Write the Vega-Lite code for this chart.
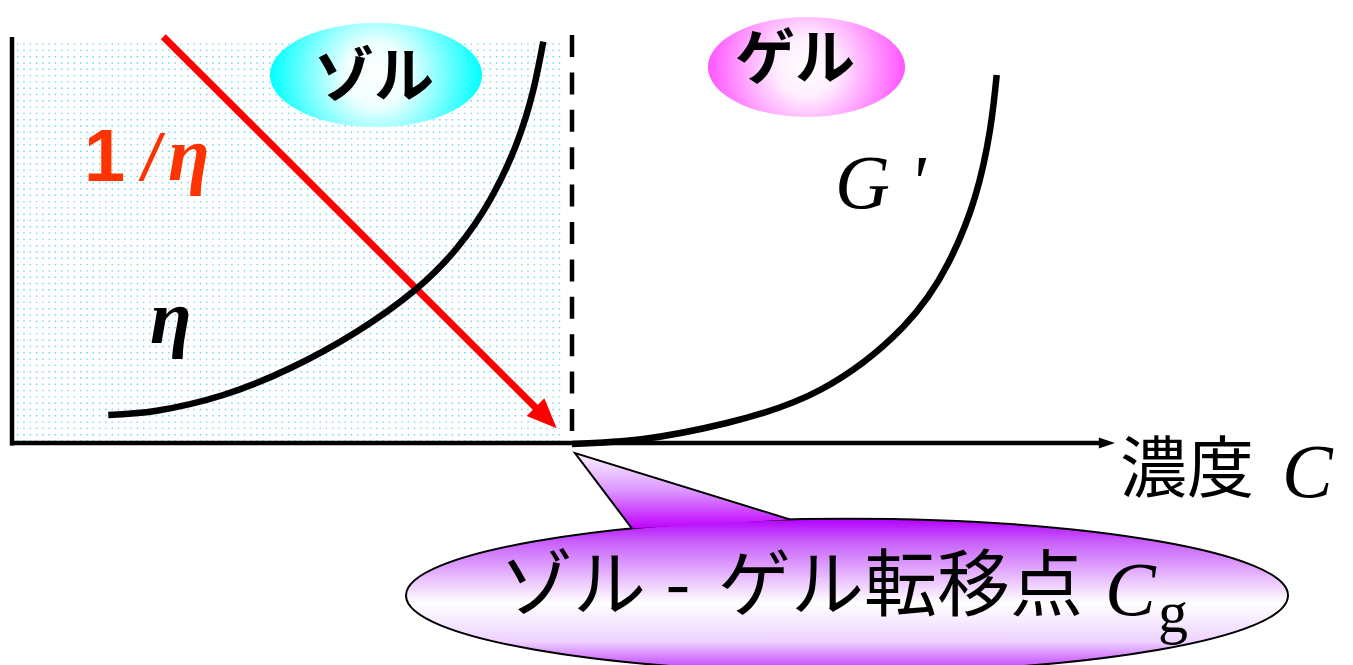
{
  "$schema": "https://vega.github.io/schema/vega-lite/v6.json",
  "width": 1353,
  "height": 665,
  "autosize": "none",
  "padding": 0,
  "background": "white",
  "config": {"view": {"stroke": null}},
  "encoding": {
    "x": {"field": "x", "type": "quantitative", "scale": {"domain": [-1.2, 134.1], "nice": false, "zero": false}, "axis": null},
    "y": {"field": "y", "type": "quantitative", "scale": {"domain": [-22.2, 44.3], "nice": false, "zero": false}, "axis": null}
  },
  "layer": [
    {
      "data": {"values": [
        {"y": 0.2, "x": 0.5, "x2": 55.0}, {"y": 0.83, "x": 0.5, "x2": 55.0}, {"y": 1.46, "x": 0.5, "x2": 55.0}, {"y": 2.09, "x": 0.5, "x2": 55.0},
        {"y": 2.72, "x": 0.5, "x2": 55.0}, {"y": 3.35, "x": 0.5, "x2": 55.0}, {"y": 3.98, "x": 0.5, "x2": 55.0}, {"y": 4.61, "x": 0.5, "x2": 55.0},
        {"y": 5.24, "x": 0.5, "x2": 55.0}, {"y": 5.87, "x": 0.5, "x2": 55.0}, {"y": 6.5, "x": 0.5, "x2": 55.0}, {"y": 7.13, "x": 0.5, "x2": 55.0},
        {"y": 7.76, "x": 0.5, "x2": 55.0}, {"y": 8.39, "x": 0.5, "x2": 55.0}, {"y": 9.02, "x": 0.5, "x2": 55.0}, {"y": 9.65, "x": 0.5, "x2": 55.0},
        {"y": 10.28, "x": 0.5, "x2": 55.0}, {"y": 10.91, "x": 0.5, "x2": 55.0}, {"y": 11.54, "x": 0.5, "x2": 55.0}, {"y": 12.17, "x": 0.5, "x2": 55.0},
        {"y": 12.8, "x": 0.5, "x2": 55.0}, {"y": 13.43, "x": 0.5, "x2": 55.0}, {"y": 14.06, "x": 0.5, "x2": 55.0}, {"y": 14.69, "x": 0.5, "x2": 55.0},
        {"y": 15.32, "x": 0.5, "x2": 55.0}, {"y": 15.95, "x": 0.5, "x2": 55.0}, {"y": 16.58, "x": 0.5, "x2": 55.0}, {"y": 17.21, "x": 0.5, "x2": 55.0},
        {"y": 17.84, "x": 0.5, "x2": 55.0}, {"y": 18.47, "x": 0.5, "x2": 55.0}, {"y": 19.1, "x": 0.5, "x2": 55.0}, {"y": 19.73, "x": 0.5, "x2": 55.0},
        {"y": 20.36, "x": 0.5, "x2": 55.0}, {"y": 20.99, "x": 0.5, "x2": 55.0}, {"y": 21.62, "x": 0.5, "x2": 55.0}, {"y": 22.25, "x": 0.5, "x2": 55.0},
        {"y": 22.88, "x": 0.5, "x2": 55.0}, {"y": 23.51, "x": 0.5, "x2": 55.0}, {"y": 24.14, "x": 0.5, "x2": 55.0}, {"y": 24.77, "x": 0.5, "x2": 55.0},
        {"y": 25.4, "x": 0.5, "x2": 55.0}, {"y": 26.03, "x": 0.5, "x2": 55.0}, {"y": 26.66, "x": 0.5, "x2": 55.0}, {"y": 27.29, "x": 0.5, "x2": 55.0},
        {"y": 27.92, "x": 0.5, "x2": 55.0}, {"y": 28.55, "x": 0.5, "x2": 55.0}, {"y": 29.18, "x": 0.5, "x2": 55.0}, {"y": 29.81, "x": 0.5, "x2": 55.0},
        {"y": 30.44, "x": 0.5, "x2": 55.0}, {"y": 31.07, "x": 0.5, "x2": 55.0}, {"y": 31.7, "x": 0.5, "x2": 55.0}, {"y": 32.33, "x": 0.5, "x2": 55.0},
        {"y": 32.96, "x": 0.5, "x2": 55.0}, {"y": 33.59, "x": 0.5, "x2": 55.0}, {"y": 34.22, "x": 0.5, "x2": 55.0}, {"y": 34.85, "x": 0.5, "x2": 55.0},
        {"y": 35.48, "x": 0.5, "x2": 55.0}, {"y": 36.11, "x": 0.5, "x2": 55.0}, {"y": 36.74, "x": 0.5, "x2": 55.0}, {"y": 37.37, "x": 0.5, "x2": 55.0},
        {"y": 38.0, "x": 0.5, "x2": 55.0}, {"y": 38.63, "x": 0.5, "x2": 55.0}, {"y": 39.26, "x": 0.5, "x2": 55.0}, {"y": 39.89, "x": 0.5, "x2": 55.0}
      ]},
      "mark": {"type": "rule", "color": "#55d0f2", "strokeWidth": 1.4, "strokeDash": [1.4, 4.9], "opacity": 0.9},
      "encoding": {
        "x2": {"field": "x2"}
      }
    },
    {
      "data": {"values": [
        {"x": 0, "y": 40.6, "x2": 0, "y2": -0.25},
        {"x": -0.2, "y": 0, "x2": 108.8, "y2": 0}
      ]},
      "mark": {"type": "rule", "color": "black", "strokeWidth": 4.5},
      "encoding": {"x2": {"field": "x2"}, "y2": {"field": "y2"}}
    },
    {
      "data": {"values": [{"x": 56, "y": 40.8, "x2": 56, "y2": 1.2}]},
      "mark": {"type": "rule", "color": "black", "strokeWidth": 4.5, "strokeDash": [22, 15.4]},
      "encoding": {"x2": {"field": "x2"}, "y2": {"field": "y2"}}
    },
    {
      "data": {"values": [{"x": 36.4, "y": 36.8}]},
      "mark": {"type": "point", "filled": true, "size": 44944, "strokeWidth": 0,
        "shape": "M-1,0C-1,-0.2712,-0.5523,-0.491,0,-0.491C0.5523,-0.491,1,-0.2712,1,0C1,0.2712,0.5523,0.491,0,0.491C-0.5523,0.491,-1,0.2712,-1,0Z",
        "fill": {"gradient": "radial", "stops": [{"offset": 0, "color": "#ffffff"}, {"offset": 0.3, "color": "#eeffff"}, {"offset": 1, "color": "#00ffff"}]},
        "opacity": 1}
    },
    {
      "data": {"values": [{"x": 79.45, "y": 37.6}]},
      "mark": {"type": "point", "filled": true, "size": 38809, "strokeWidth": 0,
        "shape": "M-1,0C-1,-0.2804,-0.5523,-0.5076,0,-0.5076C0.5523,-0.5076,1,-0.2804,1,0C1,0.2804,0.5523,0.5076,0,0.5076C-0.5523,0.5076,-1,0.2804,-1,0Z",
        "fill": {"gradient": "radial", "stops": [{"offset": 0, "color": "#ffffff"}, {"offset": 0.3, "color": "#ffeeff"}, {"offset": 1, "color": "#ff55ff"}]},
        "opacity": 1}
    },
    {
      "data": {"values": [{"x": 15.13, "y": 40.63}, {"x": 52.7, "y": 3.2}]},
      "mark": {"type": "line", "color": "#ff0000", "strokeWidth": 7, "strokeCap": "butt"}
    },
    {
      "data": {"values": [{"x": 54.47, "y": 1.47}]},
      "mark": {"type": "point", "filled": true, "size": 2500, "angle": 135, "strokeWidth": 0, "color": "#ff0000", "opacity": 1,
        "shape": "M0,0L-0.5,1.2L0.5,1.2Z"}
    },
    {
      "data": {"values": [
        {"x": 9.63, "y": 2.8}, {"x": 14.47, "y": 3.23}, {"x": 21.13, "y": 4.8}, {"x": 27.8, "y": 7.47},
        {"x": 34.47, "y": 11.13}, {"x": 40.3, "y": 15.3}, {"x": 44.47, "y": 19.47}, {"x": 47.8, "y": 24.3},
        {"x": 50.47, "y": 29.97}, {"x": 52.13, "y": 35.3}, {"x": 53.13, "y": 40.13}
      ]},
      "mark": {"type": "line", "color": "black", "strokeWidth": 6.5, "interpolate": "natural"}
    },
    {
      "data": {"values": [
        {"x": 56.0, "y": -0.1}, {"x": 63.13, "y": 0.4}, {"x": 71.47, "y": 2.0}, {"x": 80.8, "y": 5.3},
        {"x": 89.13, "y": 11.63}, {"x": 93.63, "y": 18.0}, {"x": 96.3, "y": 24.6}, {"x": 97.8, "y": 31.3},
        {"x": 98.47, "y": 36.8}
      ]},
      "mark": {"type": "line", "color": "black", "strokeWidth": 6.5, "interpolate": "natural"}
    },
    {
      "data": {"values": [{"x": 110.3, "y": 0}]},
      "mark": {"type": "point", "filled": true, "size": 324, "strokeWidth": 0, "color": "black", "opacity": 1,
        "shape": "M0,0L-1.8,-0.6L-1.8,0.6Z"}
    },
    {
      "data": {"values": [{"x": 36.2, "y": 36.4, "text": "ゾル"}, {"x": 78.3, "y": 38.2, "text": "ゲル"}]},
      "mark": {"type": "text", "font": "Noto Sans CJK JP", "fontWeight": "bold", "fontSize": 60, "align": "center", "baseline": "middle", "color": "black"},
      "encoding": {"text": {"field": "text"}}
    },
    {
      "data": {"values": [{"x": 7.2, "y": 26.2, "text": "1"}]},
      "mark": {"type": "text", "font": "Liberation Sans", "fontWeight": "bold", "fontSize": 74, "align": "left", "baseline": "alphabetic", "color": "#ff3300"},
      "encoding": {"text": {"field": "text"}}
    },
    {
      "data": {"values": [{"x": 13.0, "y": 26.3, "text": "/"}]},
      "mark": {"type": "text", "font": "Liberation Sans", "fontStyle": "italic", "fontSize": 64, "align": "left", "baseline": "alphabetic", "color": "#ff3300"},
      "encoding": {"text": {"field": "text"}}
    },
    {
      "data": {"values": [{"x": 15.6, "y": 26.3, "text": "η"}]},
      "mark": {"type": "text", "font": "Liberation Serif", "fontStyle": "italic", "fontWeight": "bold", "fontSize": 76, "align": "left", "baseline": "alphabetic", "color": "#ff3300"},
      "encoding": {"text": {"field": "text"}}
    },
    {
      "data": {"values": [{"x": 13.8, "y": 10.0, "text": "η"}]},
      "mark": {"type": "text", "font": "Liberation Serif", "fontStyle": "italic", "fontWeight": "bold", "fontSize": 76, "align": "left", "baseline": "alphabetic", "color": "black"},
      "encoding": {"text": {"field": "text"}}
    },
    {
      "data": {"values": [{"x": 82.3, "y": 23.5, "text": "G '"}]},
      "mark": {"type": "text", "font": "Liberation Serif", "fontStyle": "italic", "fontSize": 76, "align": "left", "baseline": "alphabetic", "color": "black"},
      "encoding": {"text": {"field": "text"}}
    },
    {
      "data": {"values": [{"x": 110.8, "y": -2.9, "text": "濃度"}]},
      "mark": {"type": "text", "font": "Noto Sans CJK JP", "fontSize": 67, "align": "left", "baseline": "middle", "color": "black"},
      "encoding": {"text": {"field": "text"}}
    },
    {
      "data": {"values": [{"x": 127.0, "y": -5.4, "text": "C"}]},
      "mark": {"type": "text", "font": "Liberation Serif", "fontStyle": "italic", "fontSize": 76, "align": "left", "baseline": "alphabetic", "color": "black"},
      "encoding": {"text": {"field": "text"}}
    },
    {
      "data": {"values": [{"x": 83.5, "y": -15.25}]},
      "mark": {"type": "point", "filled": true, "size": 777924, "stroke": "black", "strokeWidth": 2, "opacity": 1,
        "shape": "M-1,0C-1,-0.09604,-0.5523,-0.1739,0,-0.1739C0.5523,-0.1739,1,-0.09604,1,0C1,0.09604,0.5523,0.1739,0,0.1739C-0.5523,0.1739,-1,0.09604,-1,0Z",
        "fill": {"gradient": "linear", "x1": 0, "y1": 0, "x2": 0, "y2": 1, "stops": [{"offset": 0, "color": "#b400ff"}, {"offset": 0.15, "color": "#c860fa"}, {"offset": 0.55, "color": "#ffffff"}, {"offset": 0.8, "color": "#eed2ff"}, {"offset": 1, "color": "#bc30ff"}]}}
    },
    {
      "data": {"values": [{"x": 83.5, "y": -15.25}]},
      "mark": {"type": "point", "filled": true, "size": 777924, "stroke": "black", "strokeWidth": 2, "opacity": 1,
        "shape": "M-0.4875,-0.1518L-0.6168,-0.3231L-0.1293,-0.1724",
        "fill": {"gradient": "linear", "x1": 0, "y1": 0, "x2": 0, "y2": 1, "stops": [{"offset": 0, "color": "#faf4ff"}, {"offset": 0.5, "color": "#dc96ff"}, {"offset": 1, "color": "#c000ff"}]}}
    },
    {
      "data": {"values": [{"x": 48.8, "y": -14.5, "text": "ゾル"}, {"x": 70.6, "y": -14.5, "text": "ゲル転移点"}]},
      "mark": {"type": "text", "font": "Noto Sans CJK JP", "fontSize": 73, "align": "left", "baseline": "middle", "color": "black"},
      "encoding": {"text": {"field": "text"}}
    },
    {
      "data": {"values": [{"x": 66.6, "y": -14.5, "text": "-"}]},
      "mark": {"type": "text", "font": "Noto Sans CJK JP", "fontSize": 73, "align": "center", "baseline": "middle", "color": "black"},
      "encoding": {"text": {"field": "text"}}
    },
    {
      "data": {"values": [{"x": 109.3, "y": -17.2, "text": "C"}]},
      "mark": {"type": "text", "font": "Liberation Serif", "fontStyle": "italic", "fontSize": 76, "align": "left", "baseline": "alphabetic", "color": "black"},
      "encoding": {"text": {"field": "text"}}
    },
    {
      "data": {"values": [{"x": 114.6, "y": -18.9, "text": "g"}]},
      "mark": {"type": "text", "font": "Liberation Serif", "fontSize": 60, "align": "left", "baseline": "alphabetic", "color": "black"},
      "encoding": {"text": {"field": "text"}}
    }
  ]
}
